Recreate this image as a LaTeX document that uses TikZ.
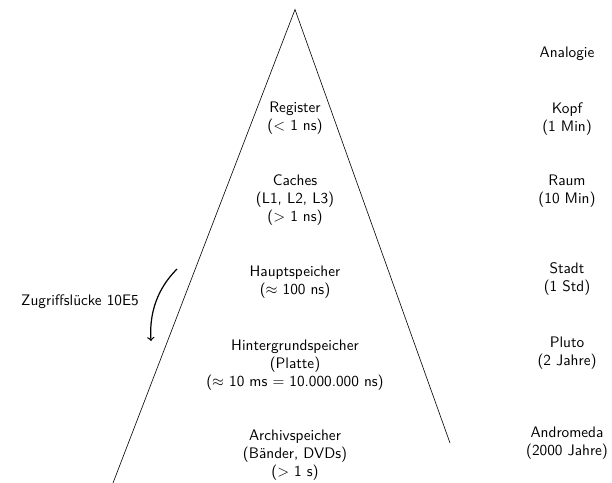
\documentclass[tikz,border=0pt]{standalone}
\begin{document}
\begin{tikzpicture}[x=0.6557pt, y=-0.6557pt,
  lbl/.style={font=\sffamily, align=center, inner sep=0pt},
  gap/.style={->, thick}]
\useasboundingbox (0,0) rectangle (612,483);
\begin{scope}
\clip (0,0) rectangle (612,483);
\coordinate (apex) at (295,9.5);
\coordinate (L) at (113,483);
\coordinate (R) at (450,443);
\draw (L) -- (apex) -- (R);
\end{scope}
% memory levels
\node[lbl] (reg)  at (295,118) {Register\\($<$ 1 ns)};
\node[lbl] (cache) at (295,200) {Caches\\(L1, L2, L3)\\($>$ 1 ns)};
\node[lbl] (haupt) at (295,282) {Hauptspeicher\\($\approx$ 100 ns)};
\node[lbl] (hint) at (295,365) {Hintergrundspeicher\\(Platte)\\($\approx$ 10 ms $=$ 10.000.000 ns)};
\node[lbl] (arch) at (295,455) {Archivspeicher\\(B\"ander, DVDs)\\($>$ 1 s)};
% analogies
\node[lbl] (ana) at (567,54) {Analogie};
\node[lbl] (kopf) at (567,119) {Kopf\\(1 Min)};
\node[lbl] (raum) at (567,191) {Raum\\(10 Min)};
\node[lbl] (stadt) at (567,279) {Stadt\\(1 Std)};
\node[lbl] (pluto) at (567,353) {Pluto\\(2 Jahre)};
\node[lbl] (andro) at (567,443) {Andromeda\\(2000 Jahre)};
% access gap
\coordinate (gs) at (177,269);
\coordinate (ge) at (151,341);
\draw[gap] (gs) .. controls (158,288) and (149,312) .. (ge);
\node[lbl] (gaplbl) at (80,302) {Zugriffsl\"ucke 10E5};
\end{tikzpicture}
\end{document}
